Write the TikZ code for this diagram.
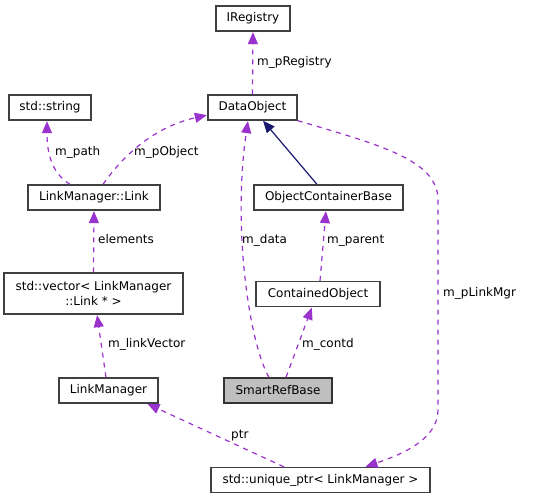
\documentclass[tikz,border=0pt]{standalone}
\usepackage{fontspec}
\setmainfont{DejaVu Sans}
\usetikzlibrary{arrows.meta}
\definecolor{usecol}{HTML}{9A32CD}
\definecolor{inhcol}{HTML}{191970}

\begin{document}
\begin{tikzpicture}[x=1pt, y=-1pt,
        cls/.style={draw=black!75, line width=1.3pt, fill=white, inner sep=0pt, minimum height=25pt, font=\fontsize{12}{14}\selectfont},
        usage/.style={draw=usecol, line width=1.2pt, dash pattern=on 5pt off 5pt, -{Triangle[length=12pt,width=10pt]}, shorten >=0.5pt},
        inherit/.style={draw=inhcol, line width=1.2pt, -{Triangle[length=12pt,width=10pt]}},
        lbl/.style={anchor=base west, inner sep=0pt, font=\fontsize{12}{14}\selectfont}]
        \useasboundingbox (0,0) rectangle (556,499);

        % classes
        \node[cls, minimum width=74pt] (reg) at (253,18.5) {IRegistry};
        \node[cls, minimum width=82pt] (str) at (50,107.5) {std::string};
        \node[cls, minimum width=89pt] (data) at (252.5,107.5) {DataObject};
        \node[cls, minimum width=132pt] (link) at (94,197.5) {LinkManager::Link};
        \node[cls, minimum width=149pt] (ocb) at (328.5,197.5) {ObjectContainerBase};
        \node[cls, minimum width=179pt, minimum height=41pt, align=center,
            font=\fontsize{12}{14.5}\selectfont] (vec) at (93.5,293.5) {std::vector< LinkManager\\::Link * >};
        \node[cls, minimum width=124pt] (cont) at (318,294) {ContainedObject};
        \node[cls, minimum width=99pt] (lm) at (108.5,390.5) {LinkManager};
        \node[cls, minimum width=108pt, draw=black!80, fill=black!25] (smart) at (278,390.5) {SmartRefBase};
        \node[cls, minimum width=219pt] (uptr) at (320.5,480) {std::unique\_ptr< LinkManager >};

        % members
        \draw[usage] (data.north) -- (reg.south);
        \draw[usage] ([xshift=-24pt]link.north) .. controls (50,172) and (47,150) .. ([xshift=-3pt]str.south);
        \draw[usage] ([xshift=9pt]link.north) .. controls (120,160) and (150,128) .. ([yshift=-7.5pt]data.west);
        \draw[usage] ([xshift=-9pt]smart.north) .. controls (250,345) and (232,230) .. ([xshift=-4.5pt]data.south);
        \draw[inherit] ([xshift=-11.5pt]ocb.north) -- ([xshift=10.5pt]data.south);
        \draw[usage] ([xshift=2pt]cont.north) -- ([xshift=-2.5pt]ocb.south);
        \draw[usage] ([xshift=8pt]smart.north) -- ([xshift=-6pt]cont.south);
        \draw[usage] ([xshift=-2.5pt]lm.north) -- ([xshift=3.5pt]vec.south);
        \draw[usage] (vec.north) -- (link.south);
        \draw[usage] ([xshift=-36.5pt]uptr.north) -- ([xshift=38.5pt]lm.south);
        \draw[usage] (data.south east) .. controls (380,145) and (438,160) .. (438,200) -- (438,410)
            .. controls (438,440) and (400,455) .. ([xshift=44.5pt]uptr.north);

        % labels
        \node[lbl] (lreg) at (257,65.5) {m\_pRegistry};
        \node[lbl] (lpath) at (55,155.5) {m\_path};
        \node[lbl] (lobj) at (134,155.5) {m\_pObject};
        \node[lbl] (ldata) at (242,243.5) {m\_data};
        \node[lbl] (lpar) at (327,243.5) {m\_parent};
        \node[lbl] (lel) at (98,243.5) {elements};
        \node[lbl] (lmgr) at (443,296.5) {m\_pLinkMgr};
        \node[lbl] (lvec) at (108,347.5) {m\_linkVector};
        \node[lbl] (lcont) at (302,347.5) {m\_contd};
        \node[lbl] (lptr) at (231,438.5) {ptr};
\end{tikzpicture}
\end{document}
